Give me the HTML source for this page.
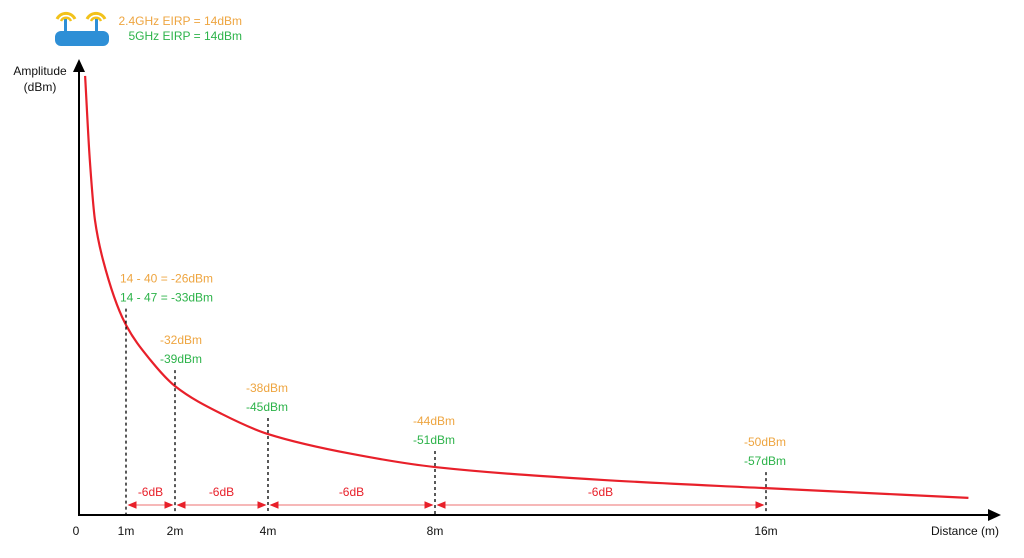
<!DOCTYPE html>
<html><head><meta charset="utf-8"><style>
html,body{margin:0;padding:0;background:#fff;width:1024px;height:558px;overflow:hidden}
svg{display:block;font-family:"Liberation Sans",sans-serif}
</style></head><body>
<svg id="chart" width="1024" height="558" viewBox="0 0 1024 558">
<defs>
<marker id="ah" markerWidth="6" markerHeight="6" refX="5" refY="3" orient="auto-start-reverse"><path d="M0,0.5 L6,3 L0,5.5 Z" fill="#e8202a"/></marker>
</defs>
<g>
<rect x="55" y="31" width="54" height="15" rx="6" fill="#2e8fd6"/>
<rect x="64" y="19" width="3" height="14" fill="#2e8fd6"/>
<rect x="95" y="19" width="3" height="14" fill="#2e8fd6"/>
<path d="M57,19 A10,10 0 0 1 75,19" stroke="#f2c21b" stroke-width="3" fill="none"/>
<path d="M61,21 A5.5,5.5 0 0 1 71,21" stroke="#f2c21b" stroke-width="2.5" fill="none"/>
<path d="M87,19 A10,10 0 0 1 105,19" stroke="#f2c21b" stroke-width="3" fill="none"/>
<path d="M91,21 A5.5,5.5 0 0 1 101,21" stroke="#f2c21b" stroke-width="2.5" fill="none"/>
</g>
<text x="242" y="25" text-anchor="end" font-size="12" fill="#eea540">2.4GHz EIRP = 14dBm</text>
<text x="242" y="40" text-anchor="end" font-size="12" fill="#2db34a">5GHz EIRP = 14dBm</text>
<text x="40" y="75" text-anchor="middle" font-size="12" fill="#111">Amplitude</text>
<text x="40" y="91" text-anchor="middle" font-size="12" fill="#111">(dBm)</text>
<line x1="79" y1="516" x2="79" y2="70" stroke="#000" stroke-width="2"/>
<path d="M73,72 L79,59 L85,72 Z" fill="#000"/>
<line x1="78" y1="515" x2="990" y2="515" stroke="#000" stroke-width="2"/>
<path d="M988,509 L1001,515 L988,521 Z" fill="#000"/>
<text x="965" y="535" text-anchor="middle" font-size="12" fill="#111">Distance (m)</text>
<g id="marks"></g>
</svg>
<script>
const tickDist=[0,1,2,4,8,16];
const tickLabels=["0","1m","2m","4m","8m","16m"];
const curveDist=[0.13,0.23,0.34,0.51,0.98,1.5,2,3,4,6,8,12,16,20.9];
const curveAmp=[99.8,80.7,67.0,58.0,43.6,35.2,29.3,23.0,18.4,13.9,10.9,8.0,6.1,3.9];
const markDist=[1,2,4,8,16];
const val24=["14 - 40 = -26dBm","-32dBm","-38dBm","-44dBm","-50dBm"];
const val5=["14 - 47 = -33dBm","-39dBm","-45dBm","-51dBm","-57dBm"];
const stepLabels=["-6dB","-6dB","-6dB","-6dB"];
const kD=[0,1,2,4,8,16,32],kP=[79,126,175,268,435,766,1427];
function xS(d){for(let i=0;i<kD.length-1;i++){if(d<=kD[i+1]){const t=(d-kD[i])/(kD[i+1]-kD[i]);return kP[i]+t*(kP[i+1]-kP[i]);}}return kP[kP.length-1];}
function yS(v){return 515-v*4.4;}
const NS="http://www.w3.org/2000/svg",g=document.getElementById('marks');
function mk(t,a){const e=document.createElementNS(NS,t);for(const k in a)e.setAttribute(k,a[k]);g.appendChild(e);return e;}
const P=curveDist.map((d,i)=>[xS(d),yS(curveAmp[i])]);
const n=P.length,dl=[],m=[];
for(let i=0;i<n-1;i++)dl.push((P[i+1][1]-P[i][1])/(P[i+1][0]-P[i][0]));
m[0]=dl[0];m[n-1]=dl[n-2];
for(let i=1;i<n-1;i++){if(dl[i-1]*dl[i]<=0)m[i]=0;else{const h0=P[i][0]-P[i-1][0],h1=P[i+1][0]-P[i][0];const w1=2*h1+h0,w2=h1+2*h0;m[i]=(w1+w2)/(w1/dl[i-1]+w2/dl[i]);}}
let dstr="M"+P[0][0]+","+P[0][1];
for(let i=0;i<n-1;i++){const h=P[i+1][0]-P[i][0];
dstr+=` C${P[i][0]+h/3},${P[i][1]+m[i]*h/3} ${P[i+1][0]-h/3},${P[i+1][1]-m[i+1]*h/3} ${P[i+1][0]},${P[i+1][1]}`;}
const c=mk('path',{d:dstr,fill:'none',stroke:'#e8202a','stroke-width':2.2});


function ampAt(d){for(let i=0;i<curveDist.length-1;i++){if(d<=curveDist[i+1]){const t=(d-curveDist[i])/(curveDist[i+1]-curveDist[i]);return curveAmp[i]+t*(curveAmp[i+1]-curveAmp[i]);}}return curveAmp[curveAmp.length-1];}
tickDist.forEach((d,i)=>{const t=mk('text',{x:xS(d)-(i==0?3:0),y:535,'text-anchor':'middle','font-size':12,fill:'#111'});t.textContent=tickLabels[i];

});
markDist.forEach((d,i)=>{const x=xS(d),y=yS(ampAt(d));
const l=mk('line',{x1:x,y1:y-16,x2:x,y2:515,stroke:'#000','stroke-width':1.3,'stroke-dasharray':'3,3'});


const lx=i==0?x-6:(i==1?x-15:x-22);
const a=mk('text',{x:lx,y:y-42,'font-size':12,fill:'#eea540'});a.textContent=val24[i];


const b=mk('text',{x:lx,y:y-23,'font-size':12,fill:'#2db34a'});b.textContent=val5[i];


if(i<markDist.length-1){const x2=xS(markDist[i+1]);
const s=mk('line',{x1:x+3,y1:505,x2:x2-3,y2:505,stroke:'#f4a0a0','stroke-width':1.5,'marker-start':'url(#ah)','marker-end':'url(#ah)'});


const st=mk('text',{x:(x+x2)/2,y:496,'text-anchor':'middle','font-size':12,fill:'#e8202a'});st.textContent=stepLabels[i];

}
});
</script>
</body></html>
